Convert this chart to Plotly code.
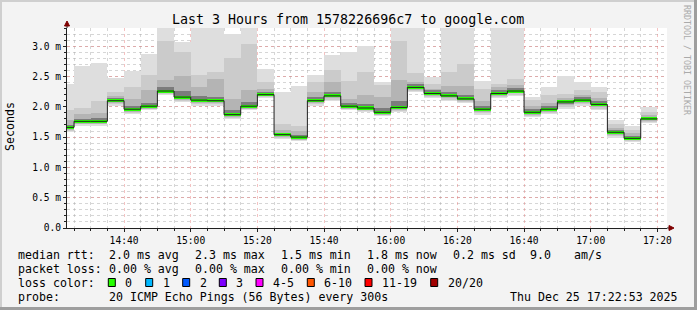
import pandas as pd
import plotly.graph_objects as go

# ---------------- data ----------------
title_text = "Last 3 Hours from 1578226696c7 to google.com"
range_start = "2025-12-25 14:22:53"
range_end = "2025-12-25 17:22:53"
first_step_end = "2025-12-25 14:25:00"
n_steps = 36
step_seconds = 300

rtt_min = [1.58, 1.69, 1.69, 2.02, 1.88, 1.94, 2.19, 2.08, 2.01, 2.02, 1.80, 1.94,
           2.14, 1.47, 1.43, 2.02, 2.09, 1.94, 1.91, 1.84, 1.91, 2.24, 2.14, 2.10,
           2.06, 1.87, 2.14, 2.18, 1.83, 1.88, 1.97, 2.02, 1.94, 1.48, 1.42, 1.73]
rtt_p10 = [1.60, 1.71, 1.71, 2.04, 1.90, 1.96, 2.21, 2.10, 2.04, 2.04, 1.82, 1.96,
           2.16, 1.49, 1.45, 2.04, 2.12, 1.96, 1.93, 1.86, 1.93, 2.26, 2.16, 2.12,
           2.08, 1.90, 2.16, 2.20, 1.85, 1.90, 2.00, 2.05, 1.97, 1.51, 1.44, 1.75]
rtt_p25 = [1.62, 1.72, 1.72, 2.06, 1.92, 1.97, 2.22, 2.12, 2.06, 2.06, 1.83, 1.97,
           2.17, 1.50, 1.46, 2.06, 2.14, 1.97, 1.94, 1.87, 1.95, 2.28, 2.18, 2.14,
           2.10, 1.92, 2.18, 2.22, 1.87, 1.92, 2.03, 2.07, 2.00, 1.54, 1.45, 1.77]
rtt_p40 = [1.64, 1.74, 1.74, 2.08, 1.94, 1.99, 2.24, 2.14, 2.08, 2.08, 1.85, 1.99,
           2.18, 1.52, 1.48, 2.08, 2.16, 1.99, 1.96, 1.89, 1.97, 2.30, 2.20, 2.16,
           2.11, 1.94, 2.20, 2.24, 1.89, 1.94, 2.05, 2.09, 2.02, 1.56, 1.46, 1.78]
rtt_median = [1.66, 1.76, 1.76, 2.10, 1.96, 2.01, 2.26, 2.16, 2.11, 2.10, 1.87, 2.01,
              2.20, 1.54, 1.50, 2.10, 2.18, 2.01, 1.98, 1.91, 1.99, 2.32, 2.22, 2.18,
              2.13, 1.96, 2.22, 2.26, 1.91, 1.96, 2.08, 2.11, 2.04, 1.58, 1.48, 1.80]
rtt_p60 = [1.70, 1.80, 1.81, 2.14, 2.02, 2.06, 2.33, 2.26, 2.18, 2.16, 1.95, 2.08,
           2.25, 1.57, 1.54, 2.16, 2.24, 2.07, 2.05, 1.98, 2.10, 2.37, 2.27, 2.24,
           2.19, 2.02, 2.27, 2.31, 1.96, 2.01, 2.12, 2.16, 2.09, 1.62, 1.52, 1.83]
rtt_p75 = [1.78, 1.88, 1.90, 2.18, 2.13, 2.27, 2.45, 2.50, 2.32, 2.46, 2.13, 2.27,
           2.30, 1.62, 1.60, 2.25, 2.41, 2.13, 2.19, 2.16, 2.45, 2.41, 2.30, 2.34,
           2.34, 2.10, 2.32, 2.36, 2.02, 2.06, 2.15, 2.20, 2.14, 1.65, 1.56, 1.86]
rtt_p90 = [1.95, 1.98, 2.09, 2.24, 2.32, 2.53, 3.09, 2.90, 2.52, 2.57, 2.80, 3.04,
           2.41, 1.72, 1.69, 2.41, 2.60, 2.42, 2.58, 2.36, 3.09, 2.56, 2.38, 2.57,
           2.71, 2.30, 2.38, 2.46, 2.12, 2.20, 2.21, 2.28, 2.24, 1.72, 1.62, 1.92]
rtt_max = [2.38, 2.67, 2.72, 2.47, 2.59, 2.87, 3.40, 3.07, 3.40, 3.40, 3.20, 3.40,
           2.62, 2.24, 2.34, 2.53, 2.86, 2.90, 3.00, 2.41, 3.40, 3.40, 2.49, 3.40,
           3.40, 2.43, 3.40, 3.40, 2.16, 2.32, 2.51, 2.41, 2.32, 1.79, 1.69, 1.99]

y_tick_vals = [0.0, 0.5, 1.0, 1.5, 2.0, 2.5, 3.0]
y_tick_text = ["0.0", "0.5 m", "1.0 m", "1.5 m", "2.0 m", "2.5 m", "3.0 m"]

loss_labels = ["0", "1", "2", "3", "4-5", "6-10", "11-19", "20/20"]
loss_colors = ["#26ff00", "#00b8ff", "#0059ff", "#7e00ff", "#ff00ff", "#ff5500", "#ff0000", "#a10000"]

stats_row1 = ["median rtt:", "2.0 ms avg", "2.3 ms max", "1.5 ms min", "1.8 ms now", "0.2 ms sd", "9.0", "am/s"]
stats_row2 = ["packet loss:", "0.00 % avg", "0.00 % max", "0.00 % min", "0.00 % now"]
probe_label = "probe:"
probe_text = "20 ICMP Echo Pings (56 Bytes) every 300s"
date_text = "Thu Dec 25 17:22:53 2025"
loss_title = "loss color:"

# ---------------- layout geometry ----------------
W, H = 697, 310
L, R, T, B = 67, 30, 28, 82
PW, PH = W - L - R, H - T - B
MONO = "DejaVu Sans Mono"


def px(x):
    return (x - L) / PW


def py(y):
    return (H - B - y) / PH


ends = pd.date_range(first_step_end, periods=n_steps, freq=f"{step_seconds}s")
starts = ends - pd.Timedelta(seconds=step_seconds)
centers = ends - pd.Timedelta(seconds=step_seconds / 2)
width_ms = step_seconds * 1000

fig = go.Figure()

layers = [
    (rtt_min, rtt_max, "#dedede"),
    (rtt_p10, rtt_p90, "#cbcbcb"),
    (rtt_p25, rtt_p75, "#b4b4b4"),
    (rtt_p40, rtt_p60, "#7c7c7c"),
]
for lo, hi, col in layers:
    fig.add_trace(go.Bar(
        x=centers, base=lo, y=[h - l for l, h in zip(lo, hi)],
        width=width_ms, marker=dict(color=col, line=dict(width=0)),
        showlegend=False, hoverinfo="skip"))

# median step line
fig.add_trace(go.Scatter(
    x=list(starts) + [ends[-1]], y=rtt_median + [rtt_median[-1]],
    mode="lines", line=dict(color="#202020", width=1, shape="hv"),
    showlegend=False, hoverinfo="skip"))

# loss-coloured median band
band = 0.025
fig.add_trace(go.Bar(
    x=centers, base=[m - band for m in rtt_median], y=[2 * band] * n_steps,
    width=width_ms, marker=dict(color=loss_colors[0], line=dict(width=0)),
    showlegend=False, hoverinfo="skip"))

fig.update_layout(
    width=W, height=H, margin=dict(l=L, r=R, t=T, b=B, pad=0),
    paper_bgcolor="#f3f3f3", plot_bgcolor="#ffffff",
    barmode="overlay", bargap=0, showlegend=False,
    font=dict(family=MONO, color="#000000"),
)

major_grid = "rgba(230,120,120,0.45)"
minor_grid = "rgba(165,165,165,0.45)"
fig.update_xaxes(
    type="date", range=[range_start, range_end],
    tickformat="%H:%M", tick0="2025-12-25 14:40:00", dtick=20 * 60 * 1000,
    tickfont=dict(family=MONO, size=9.6, color="#000000"),
    showgrid=True, gridcolor=major_grid, griddash="dot", gridwidth=1,
    minor=dict(dtick=5 * 60 * 1000, showgrid=True, gridcolor=minor_grid,
               griddash="dot", ticks="outside", ticklen=2, tickcolor="#202020"),
    showline=True, linecolor="#202020", linewidth=1,
    ticks="outside", ticklen=3, tickcolor="#202020",
    layer="above traces", zeroline=False, fixedrange=True,
)
fig.update_yaxes(
    range=[0, 3.3], tickvals=y_tick_vals, ticktext=y_tick_text,
    tickfont=dict(family=MONO, size=9.6, color="#000000"),
    showgrid=True, gridcolor=major_grid, griddash="dot", gridwidth=1,
    minor=dict(dtick=0.1, showgrid=True, gridcolor=minor_grid,
               griddash="dot", ticks="outside", ticklen=2, tickcolor="#202020"),
    showline=True, linecolor="#202020", linewidth=1,
    ticks="outside", ticklen=3, tickcolor="#202020",
    layer="above traces", zeroline=False, fixedrange=True,
)

shapes = []
# axis extensions and arrows
shapes.append(dict(type="line", xref="paper", yref="paper", x0=px(667), x1=px(671), y0=0, y1=0,
                   line=dict(color="#202020", width=1)))
shapes.append(dict(type="line", xref="paper", yref="paper", x0=0, x1=0, y0=1, y1=py(24),
                   line=dict(color="#202020", width=1)))
shapes.append(dict(type="path", xref="paper", yref="paper",
                   path=f"M {px(669)} {py(225.5)} L {px(674)} {py(228)} L {px(669)} {py(230.5)} Z",
                   fillcolor="#7f0000", line=dict(color="#7f0000", width=1)))
shapes.append(dict(type="path", xref="paper", yref="paper",
                   path=f"M {px(64.5)} {py(26)} L {px(67)} {py(21)} L {px(69.5)} {py(26)} Z",
                   fillcolor="#7f0000", line=dict(color="#7f0000", width=1)))
# frame (3d shading)
shapes.append(dict(type="rect", xref="paper", yref="paper", x0=px(0), x1=px(697), y0=py(0), y1=py(2),
                   fillcolor="#cfcfcf", line=dict(width=0)))
shapes.append(dict(type="rect", xref="paper", yref="paper", x0=px(0), x1=px(2), y0=py(0), y1=py(310),
                   fillcolor="#cfcfcf", line=dict(width=0)))
shapes.append(dict(type="rect", xref="paper", yref="paper", x0=px(0), x1=px(697), y0=py(307), y1=py(310),
                   fillcolor="#9e9e9e", line=dict(width=0)))
shapes.append(dict(type="rect", xref="paper", yref="paper", x0=px(694), x1=px(697), y0=py(0), y1=py(310),
                   fillcolor="#9e9e9e", line=dict(width=0)))

annotations = []


def txt(x, y, s, size=11.6, anchor="left", color="#000000", angle=0):
    annotations.append(dict(x=px(x), y=py(y), xref="paper", yref="paper", text=s,
                            showarrow=False, xanchor=anchor, yanchor="middle",
                            textangle=angle,
                            font=dict(family=MONO, size=size, color=color)))


txt(348, 19, title_text, size=13.3, anchor="center")
txt(10, 127, "Seconds", size=11.6, anchor="center", angle=-90)
txt(687, 60, "RRDTOOL / TOBI OETIKER", size=8.3, anchor="center", color="#aaaaaa", angle=90)

row1_x = [16, 107.3, 193.3, 279.3, 365.3, 451, 527.7, 572.3]
for x, s in zip(row1_x, stats_row1):
    txt(x, 254.5, s)
row2_x = [16, 107.3, 193.3, 279.3, 365.3]
for x, s in zip(row2_x, stats_row2):
    txt(x, 268.5, s)

txt(16, 282.5, loss_title)
box_x = [108.3, 145.7, 182.7, 219.3, 256, 307.3, 365, 430.7]
for bx, lab, col in zip(box_x, loss_labels, loss_colors):
    shapes.append(dict(type="rect", xref="paper", yref="paper",
                       x0=px(bx), x1=px(bx + 7), y0=py(278.5), y1=py(286.5),
                       fillcolor=col, line=dict(color="#000000", width=1)))
    txt(bx + 15, 282.5, lab)

txt(16, 296.7, probe_label)
txt(107.3, 296.7, probe_text)
txt(680, 296.7, date_text, anchor="right")

fig.update_layout(shapes=shapes, annotations=annotations)
fig.write_html("out.html")
